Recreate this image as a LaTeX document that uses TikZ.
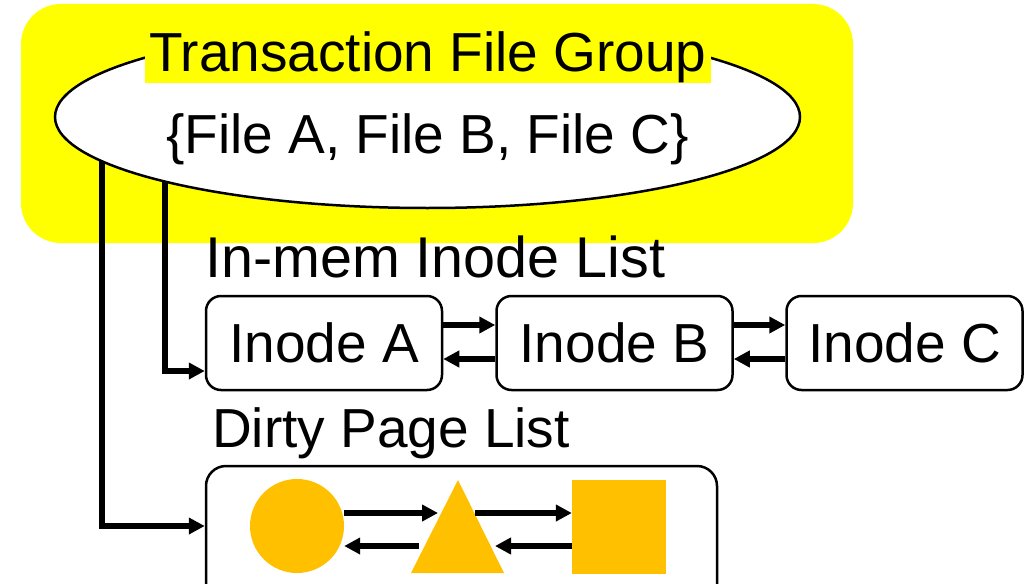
\documentclass[tikz,border=0pt]{standalone}
\usepackage{fontspec}
\setmainfont{Liberation Sans}
\usetikzlibrary{arrows.meta,shapes.geometric}
\definecolor{hiyellow}{HTML}{FFFF00}
\definecolor{pageorange}{HTML}{FFC000}
\pgfdeclarelayer{back}
\pgfdeclarelayer{mid}
\pgfsetlayers{back,mid,main}
\tikzset{
  big/.style={font=\fontsize{55}{60}\selectfont},
  label/.style={big, inner sep=0pt, anchor=base west},
  inodebox/.style={draw, line width=2.5pt, rounded corners=15pt, fill=white,
    minimum width=236pt, minimum height=94pt, inner sep=0pt, big},
  conn/.style={line width=6pt, -{Triangle[length=16pt,width=16pt]}},
  link/.style={line width=6pt, -{Triangle[length=16pt,width=16pt]}},
  pageshape/.style={fill=pageorange, draw=none, inner sep=0pt},
}
\begin{document}
\begin{tikzpicture}[x=1pt, y=-1pt]
\useasboundingbox (0,0) rectangle (1032,583);
\clip (0,0) rectangle (1032,583);

% group area
\begin{pgfonlayer}{back}
  \fill[hiyellow, rounded corners=40pt] (21,4) rectangle (853,243);
\end{pgfonlayer}

\node[draw, ellipse, fill=white, line width=2.5pt, inner sep=0pt,
      minimum width=745pt, minimum height=182pt] (tfg) at (427.5,117) {};
\node[label, fill=hiyellow, inner xsep=4pt, text height=48pt, text depth=11.5pt]
      (title) at (145,72) {Transaction File Group};
\node[label] (files) at (166,153) {\{File A, File B, File C\}};

% in-memory inode list
\node[label, font=\fontsize{57.5}{62}\selectfont] (inl) at (205,277) {In-mem Inode List};
\node[inodebox] (A) at (324,343) {Inode A};
\node[inodebox] (B) at (614.5,343) {Inode B};
\node[inodebox] (C) at (904.5,343) {Inode C};
\draw[link] ([yshift=18pt]A.east) -- ([yshift=18pt]B.west);
\draw[link] ([yshift=-16pt]B.west) -- ([yshift=-16pt]A.east);
\draw[link] ([yshift=18pt]B.east) -- ([yshift=18pt]C.west);
\draw[link] ([yshift=-16pt]C.west) -- ([yshift=-16pt]B.east);

% dirty page list
\node[label] (dpl) at (212,447) {Dirty Page List};
\node[draw, line width=2.5pt, rounded corners=20pt, fill=white,
      minimum width=511pt, minimum height=144pt, inner sep=0pt] (dp) at (461.5,538) {};
\node[pageshape, circle, minimum size=94pt] (c1) at (297,526) {};
\fill[pageorange] (411,573) -- (504,573) -- (458,480) -- cycle;
\coordinate (tl) at (438,513);
\coordinate (tr) at (475,513);
\coordinate (bl) at (419,546);
\coordinate (br) at (495,546);
\node[pageshape, rectangle, minimum size=94pt] (sq) at (619,527) {};
\draw[link] ([yshift=13pt]c1.east) -- (tl);
\draw[link] (bl) -- ([yshift=-20pt]c1.east);
\draw[link] (tr) -- ([yshift=14pt]sq.west);
\draw[link] ([yshift=-19pt]sq.west) -- (br);

% pointers from the file group, started inside the ellipse and drawn behind it
\coordinate (g1) at (165,160);
\coordinate (g2) at (102,140);
\begin{pgfonlayer}{mid}
  \draw[conn] (g1) |- ([yshift=-28pt]A.west);
  \draw[conn] (g2) |- (c1.center -| dp.west);
\end{pgfonlayer}
\end{tikzpicture}
\end{document}
